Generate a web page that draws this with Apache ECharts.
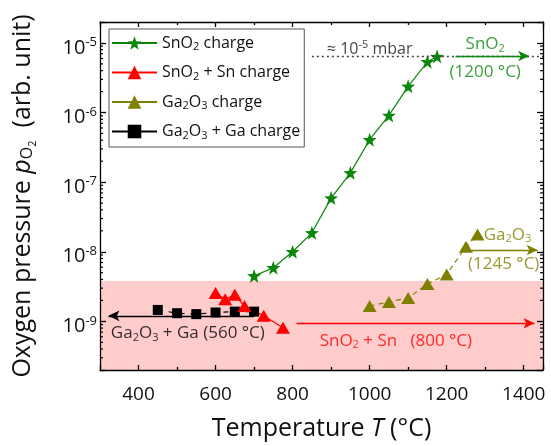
<!DOCTYPE html>
<html>
<head>
<meta charset="utf-8">
<script src="https://cdn.jsdelivr.net/npm/echarts@6/dist/echarts.min.js"></script>
<style>
  html, body { margin: 0; padding: 0; background: #fff; }
  #chart { width: 551px; height: 446px; }
</style>
</head>
<body>
<div id="chart"></div>
<script>
// data (T in °C, pO2 in arb. unit)
const snO2T = [700, 750, 800, 850, 900, 950, 1000, 1050, 1100, 1150, 1175]
const snO2P = [4.5e-9, 5.9e-9, 1.0e-8, 1.87e-8, 5.9e-8, 1.36e-7, 4.07e-7, 9.1e-7, 2.38e-6, 5.37e-6, 6.38e-6]
const snSnT = [600, 625, 650, 675, 725, 775]
const snSnP = [2.55e-9, 2.08e-9, 2.41e-9, 1.66e-9, 1.2e-9, 8.1e-10]
const ga2O3T = [1000, 1050, 1100, 1150, 1200, 1250, 1280]
const ga2O3P = [1.66e-9, 1.9e-9, 2.17e-9, 3.44e-9, 4.73e-9, 1.18e-8, 1.77e-8]
const gaGaT = [450, 500, 550, 600, 650, 700]
const gaGaP = [1.46e-9, 1.31e-9, 1.27e-9, 1.34e-9, 1.38e-9, 1.38e-9]

const xTickLabels = [400, 600, 800, 1000, 1200, 1400]
const yDecades = [-9, -8, -7, -6, -5]
const limitP = 6.5e-6      // dotted "≈ 10^-5 mbar" level
const shadeTop = 3.8e-9    // top of the pink band

const xMin = 300, xMax = 1450
const yMin = 2e-10, yMax = 2e-5
const font = 'Open Sans'

const GREEN = '#0a870a'
const RED = '#ff0000'
const OLIVE = '#808000'
const BLACK = '#000000'

const zip = (a, b) => a.map((v, i) => [v, b[i]])

// minor ticks of the log axis (2..9 x 10^n)
const minorP = []
for (let e = -10; e <= -5; e++) {
  for (let k = 2; k <= 9; k++) {
    const v = k * Math.pow(10, e)
    if (v > yMin * 1.01 && v < yMax * 0.99) minorP.push(v)
  }
}

const subRich = {
  sub: { fontSize: 11, fontFamily: font, padding: [8, 0, 0, 0] },
  sup: { fontSize: 11, fontFamily: font, padding: [0, 0, 9, 0] }
}

const legendText = {
  'SnO2 charge': 'SnO{sub|2} charge',
  'SnO2 + Sn charge': 'SnO{sub|2} + Sn charge',
  'Ga2O3 charge': 'Ga{sub|2}O{sub|3} charge',
  'Ga2O3 + Ga charge': 'Ga{sub|2}O{sub|3} + Ga charge'
}

const notes = [
  { value: [1000, 8.1e-6], text: '≈ 10{sup|-5} mbar', color: '#111', size: 16 },
  { value: [1300, 9.5e-6], text: 'SnO{sub|2}', color: GREEN, size: 17 },
  { value: [1300, 3.8e-6], text: '(1200 °C)', color: GREEN, size: 17 },
  { value: [1296, 1.76e-8], text: 'Ga{sub|2}O{sub|3}', color: OLIVE, size: 17, left: true },
  { value: [1348, 6.7e-9], text: '(1245 °C)', color: OLIVE, size: 17 },
  { value: [528, 6.7e-10], text: 'Ga{sub|2}O{sub|3} + Ga (560 °C)', color: BLACK, size: 17 },
  { value: [1068, 5.2e-10], text: 'SnO{sub|2} + Sn   (800 °C)', color: RED, size: 17 }
]

function arrow(x1, x2, y, color, type) {
  return {
    silent: true,
    symbol: ['none', 'arrow'],
    symbolSize: [8, 11],
    label: { show: false },
    lineStyle: { color: color, width: 1.3, type: type || 'solid' },
    data: [[{ coord: [x1, y] }, { coord: [x2, y] }]]
  }
}

const chart = echarts.init(document.getElementById('chart'))

const axisLine = { show: true, onZero: false, lineStyle: { color: '#000', width: 1.3 } }

chart.setOption({
  animation: false,
  backgroundColor: '#fff',
  textStyle: { fontFamily: font },
  grid: { left: 100, right: 8, top: 22, bottom: 67 },
  legend: {
    orient: 'vertical',
    left: 109,
    top: 29,
    itemWidth: 45,
    itemHeight: 17,
    itemGap: 12,
    padding: [6, 4, 6, 2],
    borderColor: '#555',
    borderWidth: 1,
    backgroundColor: '#fff',
    data: ['SnO2 charge', 'SnO2 + Sn charge', 'Ga2O3 charge', 'Ga2O3 + Ga charge'],
    lineStyle: { type: 'solid' },
    formatter: name => legendText[name],
    textStyle: { fontSize: 16, color: '#111', fontFamily: font, rich: subRich }
  },
  xAxis: [{
    type: 'value', min: xMin, max: xMax, position: 'bottom', z: 5,
    axisLine: axisLine,
    axisTick: { inside: true, length: 5, lineStyle: { color: '#000', width: 1.3 } },
    minorTick: { show: true, splitNumber: 2, length: 3, lineStyle: { color: '#000', width: 1.3 } },
    splitLine: { show: false },
    axisLabel: {
      margin: 15, fontSize: 19, color: '#111', fontFamily: font,
      formatter: v => xTickLabels.includes(v) ? String(v) : ''
    },
    name: 'Temperature {i|T} (°C)',
    nameLocation: 'middle',
    nameGap: 46,
    nameTextStyle: { fontSize: 25, color: '#111', fontFamily: font, rich: { i: { fontSize: 25, fontStyle: 'italic', fontFamily: font } } }
  }, {
    type: 'value', min: xMin, max: xMax, position: 'top', z: 5,
    axisLine: axisLine,
    axisTick: { inside: true, length: 5, lineStyle: { color: '#000', width: 1.3 } },
    minorTick: { show: true, splitNumber: 2, length: 3, lineStyle: { color: '#000', width: 1.3 } },
    splitLine: { show: false },
    axisLabel: { show: false }
  }],
  yAxis: [{
    type: 'log', logBase: 10, min: yMin, max: yMax, position: 'left', z: 5,
    axisLine: axisLine,
    axisTick: { inside: true, length: 6, lineStyle: { color: '#000', width: 1.3 } },
    splitLine: { show: false },
    axisLabel: {
      margin: 3, fontSize: 20, color: '#111', fontFamily: font,
      padding: [10, 0, 0, 0],
      formatter: v => {
        const e = Math.round(Math.log10(v))
        if (Math.abs(Math.log10(v) - e) > 0.01 || !yDecades.includes(e)) return ''
        return '10{sup|' + e + '}'
      },
      rich: { sup: { fontSize: 13, fontFamily: font, padding: [0, 0, 11, 0] } }
    },
    name: 'Oxygen pressure {i|p}{sub|O}{sub2|2}  (arb. unit)',
    nameLocation: 'middle',
    nameRotate: 90,
    nameGap: 62,
    nameTextStyle: {
      fontSize: 25, color: '#111', fontFamily: font,
      rich: {
        i: { fontSize: 25, fontStyle: 'italic', fontFamily: font },
        sub: { fontSize: 16, fontFamily: font, padding: [10, 0, 0, 0] },
        sub2: { fontSize: 11, fontFamily: font, padding: [20, 0, 0, 0] }
      }
    }
  }, {
    type: 'log', logBase: 10, min: yMin, max: yMax, position: 'right', z: 5,
    axisLine: axisLine,
    axisTick: { inside: true, length: 6, lineStyle: { color: '#000', width: 1.3 } },
    splitLine: { show: false },
    axisLabel: { show: false }
  }],
  series: [
    {
      name: 'shade', type: 'line', data: [], z: 1, silent: true,
      markArea: {
        silent: true,
        itemStyle: { color: '#ffcccc', opacity: 1 },
        data: [[{ yAxis: yMin }, { yAxis: shadeTop }]]
      },
      markLine: {
        silent: true, symbol: ['none', 'none'], label: { show: false },
        lineStyle: { color: '#444', width: 1.3, type: [2, 3] },
        data: [[{ coord: [850, limitP] }, { coord: [xMax, limitP] }]]
      }
    },
    {
      name: 'Ga2O3 + Ga charge', type: 'line', data: zip(gaGaT, gaGaP),
      symbol: 'rect', symbolSize: 10, color: BLACK,
      lineStyle: { color: BLACK, width: 1.2, type: [5, 6] },
      itemStyle: { color: BLACK },
      markLine: arrow(700, 322, 1.2e-9, BLACK)
    },
    {
      name: 'SnO2 + Sn charge', type: 'line', data: zip(snSnT, snSnP),
      symbol: 'triangle', symbolSize: [14, 12], color: RED,
      lineStyle: { color: RED, width: 1.2 },
      itemStyle: { color: RED },
      markLine: arrow(810, 1428, 9.4e-10, RED)
    },
    {
      name: 'Ga2O3 charge', type: 'line', data: zip(ga2O3T, ga2O3P),
      symbol: 'triangle', symbolSize: [14, 12], color: OLIVE,
      lineStyle: { color: OLIVE, width: 1.2, type: [5, 4] },
      itemStyle: { color: OLIVE },
      markLine: arrow(1264, 1436, 1.06e-8, OLIVE)
    },
    {
      name: 'SnO2 charge', type: 'line', data: zip(snO2T, snO2P),
      symbol: 'path://M0,-10 L2.35,-3.24 L9.51,-3.09 L3.8,1.24 L5.88,8.09 L0,4 L-5.88,8.09 L-3.8,1.24 L-9.51,-3.09 L-2.35,-3.24 Z',
      symbolSize: 14, color: GREEN,
      lineStyle: { color: GREEN, width: 1.2 },
      itemStyle: { color: GREEN },
      markLine: arrow(1223, 1414, limitP, GREEN)
    },
    {
      name: 'notes', type: 'scatter', symbolSize: 0, silent: true, z: 6,
      data: notes.map(n => ({
        value: n.value,
        label: {
          show: true,
          position: n.left ? 'right' : 'inside',
          distance: 0,
          formatter: n.text,
          color: n.color,
          fontSize: n.size,
          fontFamily: font,
          rich: subRich
        }
      }))
    },
    {
      name: 'minor ticks', type: 'custom', silent: true, z: 6,
      data: minorP.map(v => [xMin, v]),
      encode: { x: 0, y: 1 },
      clip: false,
      renderItem: (params, api) => {
        const y = api.coord([api.value(0), api.value(1)])[1]
        const cs = params.coordSys
        const st = { stroke: '#000', lineWidth: 1.2 }
        return {
          type: 'group',
          children: [
            { type: 'line', shape: { x1: cs.x, y1: y, x2: cs.x + 3, y2: y }, style: st },
            { type: 'line', shape: { x1: cs.x + cs.width, y1: y, x2: cs.x + cs.width - 3, y2: y }, style: st }
          ]
        }
      }
    }
  ]
})
</script>
</body>
</html>
